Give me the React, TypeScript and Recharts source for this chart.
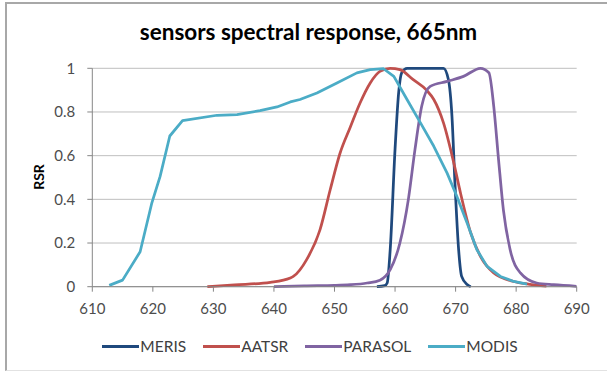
import React from 'react';
import { LineChart, Line, XAxis, YAxis, CartesianGrid } from 'recharts';

const titleText = 'sensors spectral response, 665nm';
const yAxisTitle = 'RSR';
const xTicks = [610, 620, 630, 640, 650, 660, 670, 680, 690];
const yTicks = [0, 0.2, 0.4, 0.6, 0.8, 1];

const merisNm = [657, 658.3, 658.7, 659.2, 660.0, 660.6, 661.1, 662, 665, 668, 668.8, 669.4, 669.9, 670.5, 671, 671.9, 672.5];
const merisRsr = [0, 0.005, 0.017, 0.17, 0.63, 0.89, 0.98, 1.0, 1.0, 1.0, 0.95, 0.78, 0.47, 0.17, 0.047, 0.01, 0];

const aatsrNm = [629, 633.5, 639.4, 642.7, 643.2, 645.4, 647.6, 649.3, 650.9, 652.6, 654.2, 655.9, 657.5, 659.2, 660.8, 663, 665.2, 666.4, 668, 669.7, 670.8, 672.5, 674.1, 676.3, 679.6, 682, 685];
const aatsrRsr = [0, 0.008, 0.02, 0.04, 0.047, 0.124, 0.26, 0.445, 0.61, 0.73, 0.84, 0.933, 0.986, 1.0, 0.994, 0.948, 0.9, 0.857, 0.75, 0.567, 0.43, 0.246, 0.139, 0.063, 0.024, 0.012, 0.003];

const parasolNm = [640, 645, 650, 652.6, 655.4, 657.5, 659.2, 660.8, 662.2, 663.3, 664.4, 665.8, 668.6, 671.3, 674.1, 675.5, 676.3, 677.1, 677.9, 679, 680.7, 683.4, 686.2, 690];
const parasolRsr = [0, 0.004, 0.006, 0.009, 0.017, 0.03, 0.078, 0.2, 0.4, 0.63, 0.826, 0.917, 0.94, 0.963, 1.0, 0.98, 0.826, 0.58, 0.35, 0.17, 0.063, 0.017, 0.009, 0.002];

const modisNm = [612.8, 615, 617.9, 619.8, 621.2, 622.8, 624.9, 630.6, 633.9, 637.7, 640.5, 642.7, 644.3, 647.1, 650.4, 653.7, 655.9, 658.1, 659.8, 662, 664.2, 666.4, 668.6, 670.2, 671.9, 673.5, 675.2, 677.4, 679.6, 681.8];
const modisRsr = [0.006, 0.03, 0.16, 0.38, 0.505, 0.69, 0.76, 0.785, 0.788, 0.806, 0.823, 0.846, 0.857, 0.887, 0.933, 0.979, 0.994, 0.998, 0.963, 0.856, 0.75, 0.643, 0.52, 0.414, 0.292, 0.17, 0.093, 0.047, 0.024, 0.012];

const seriesNames = ['MERIS', 'AATSR', 'PARASOL', 'MODIS'];
const seriesColors = ['#1F497D', '#C0504D', '#8064A2', '#4BACC6'];
const seriesCurve = ['monotone', 'monotone', 'monotone', 'linear'];
const seriesNm = [merisNm, aatsrNm, parasolNm, modisNm];
const seriesRsr = [merisRsr, aatsrRsr, parasolRsr, modisRsr];

const toPoints = (nm: number[], v: number[]) => nm.map((x, i) => ({ nm: x, rsr: v[i] }));

const FONT = 'Lato, "Open Sans", sans-serif';

export default function App() {
  return (
    <div style={{ position: 'absolute', left: 0, top: 0, width: 607, height: 371, background: '#fff', overflow: 'hidden', fontFamily: FONT }}>
      <div style={{ position: 'absolute', left: 5, top: 2, width: 700, height: 366, borderTop: '2px solid #A8A8A8', borderLeft: '2px solid #A8A8A8', borderBottom: '1px solid #E2E2E2' }} />
      <div style={{ position: 'absolute', left: 0, width: 617, top: 18, textAlign: 'center', fontWeight: 700, fontSize: 22.5, color: '#000', lineHeight: '28px', whiteSpace: 'nowrap' }}>
        {titleText}
      </div>
      <div style={{ position: 'absolute', left: 0, top: 0 }}>
        <LineChart width={607} height={371} margin={{ top: 68.3, right: 30.3, bottom: 54.3, left: 32.3 }}>
          <CartesianGrid vertical={false} stroke="#BFBFBF" strokeWidth={1} />
          <XAxis
            type="number"
            dataKey="nm"
            domain={[610, 690]}
            ticks={xTicks}
            allowDataOverflow
            height={30}
            tickSize={5}
            tickMargin={12}
            axisLine={{ stroke: '#868686' }}
            tickLine={{ stroke: '#868686' }}
            tick={{ fill: '#4D4D4D', fontSize: 15, fontFamily: FONT }}
          />
          <YAxis
            type="number"
            dataKey="rsr"
            domain={[0, 1]}
            ticks={yTicks}
            width={60}
            tickSize={5}
            tickMargin={12}
            axisLine={{ stroke: '#868686' }}
            tickLine={{ stroke: '#868686' }}
            tick={{ fill: '#4D4D4D', fontSize: 15, fontFamily: FONT }}
            label={() => (
              <text x={38} y={177} transform="rotate(-90 38 177)" textAnchor="middle" dominantBaseline="central" fontWeight={700} fontSize={14} fill="#000" fontFamily={FONT}>
                {yAxisTitle}
              </text>
            )}
          />
          {seriesNames.map((name, i) => (
            <Line
              key={name}
              name={name}
              data={toPoints(seriesNm[i], seriesRsr[i])}
              dataKey="rsr"
              type={seriesCurve[i] as any}
              stroke={seriesColors[i]}
              strokeWidth={2.75}
              strokeLinejoin="round"
              dot={false}
              activeDot={false}
              isAnimationActive={false}
            />
          ))}
        </LineChart>
      </div>
      <div style={{ position: 'absolute', left: 0, width: 620, top: 337, height: 18, display: 'flex', justifyContent: 'center', alignItems: 'center', gap: 17 }}>
        {seriesNames.map((name, i) => (
          <div key={name} style={{ display: 'flex', alignItems: 'center' }}>
            <div style={{ width: 37, height: 3, background: seriesColors[i], marginRight: 1 }} />
            <span style={{ fontSize: 15.5, color: '#404040', fontFamily: FONT }}>{name}</span>
          </div>
        ))}
      </div>
    </div>
  );
}
